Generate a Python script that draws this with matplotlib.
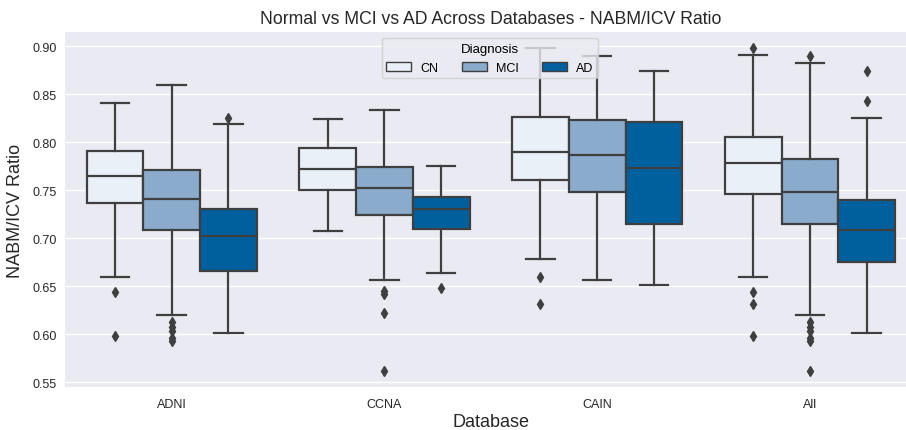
import matplotlib
matplotlib.use("Agg")
import matplotlib.pyplot as plt
from matplotlib.patches import Patch

plt.rcParams['font.family'] = ['Liberation Sans', 'DejaVu Sans']

databases = ["ADNI", "CCNA", "CAIN", "All"]
diagnoses = ["CN", "MCI", "AD"]
colors = ["#eaf0f8", "#8aabcc", "#00609e"]

# box statistics per database (rows) and diagnosis (cols): whislo, q1, med, q3, whishi
whislo = [[0.660, 0.620, 0.601],
          [0.7075, 0.657, 0.664],
          [0.678, 0.657, 0.651],
          [0.660, 0.620, 0.601]]
q1 = [[0.7366, 0.7085, 0.6662],
      [0.7505, 0.7241, 0.7095],
      [0.7606, 0.7484, 0.7151],
      [0.7457, 0.7151, 0.6752]]
med = [[0.765, 0.7411, 0.7026],
       [0.772, 0.7525, 0.730],
       [0.790, 0.7869, 0.773],
       [0.7786, 0.7477, 0.7085]]
q3 = [[0.791, 0.771, 0.730],
      [0.7935, 0.7738, 0.7432],
      [0.8264, 0.823, 0.8206],
      [0.805, 0.7827, 0.7397]]
whishi = [[0.841, 0.8594, 0.8185],
          [0.824, 0.833, 0.7754],
          [0.8976, 0.8899, 0.8743],
          [0.891, 0.8823, 0.8254]]
fliers = [[[0.6437, 0.5985], [0.613, 0.608, 0.603, 0.596, 0.593], [0.825]],
          [[], [0.645, 0.642, 0.6221, 0.5615], [0.6478]],
          [[0.6596, 0.6315], [], []],
          [[0.8976, 0.6443, 0.6315, 0.5985],
           [0.8893, 0.613, 0.608, 0.603, 0.596, 0.593, 0.5615],
           [0.8737, 0.8424]]]

W, H = 906, 431
fig = plt.figure(figsize=(W / 100, H / 100), dpi=100)
left, right_px_width = 65.3, 851.0
top, bottom = 33.3, 388.3
ax = fig.add_axes([left / W, 1 - bottom / H, right_px_width / W, (bottom - top) / H])
ax.set_facecolor("#eaeaf2")
for s in ax.spines.values():
    s.set_visible(False)
ax.yaxis.grid(True, color="white", linewidth=1.0)
ax.set_axisbelow(True)

n = len(diagnoses)
bw = 0.8 / n
line_c = "#3f3f3f"
for i in range(len(databases)):
    for j in range(n):
        pos = i - 0.4 + bw * (j + 0.5)
        st = dict(med=med[i][j], q1=q1[i][j], q3=q3[i][j],
                  whislo=whislo[i][j], whishi=whishi[i][j],
                  fliers=fliers[i][j])
        ax.bxp([st], positions=[pos], widths=bw, patch_artist=True,
               showfliers=True, manage_ticks=False,
               boxprops=dict(facecolor=colors[j], edgecolor=line_c, linewidth=1.6),
               medianprops=dict(color=line_c, linewidth=1.6),
               whiskerprops=dict(color=line_c, linewidth=1.6),
               capprops=dict(color=line_c, linewidth=1.6),
               capwidths=bw * 0.5,
               flierprops=dict(marker="d", markerfacecolor=line_c,
                               markeredgecolor=line_c, markersize=5.5))

ax.set_xlim(-0.5, 3.5)
ax.set_ylim(0.5448, 0.9143)
ax.set_xticks(range(len(databases)))
ax.set_xticklabels(databases)
ax.set_yticks([0.55, 0.60, 0.65, 0.70, 0.75, 0.80, 0.85, 0.90])
ax.set_yticklabels(["0.55", "0.60", "0.65", "0.70", "0.75", "0.80", "0.85", "0.90"])
ax.tick_params(axis="both", length=0, labelsize=9, colors="#262626", pad=8)
ax.tick_params(axis="y", pad=6)

ax.set_title("Normal vs MCI vs AD Across Databases - NABM/ICV Ratio",
             fontsize=12.7, color="#262626", pad=7)
ax.set_xlabel("Database", fontsize=13, color="#262626", labelpad=2)
ax.set_ylabel("NABM/ICV Ratio", fontsize=13, color="#262626", labelpad=6)

handles = [Patch(facecolor=c, edgecolor=line_c, linewidth=1.0) for c in colors]
leg = ax.legend(handles, diagnoses, title="Diagnosis", ncol=3, loc="upper center",
                bbox_to_anchor=(0.4987, 0.983), borderaxespad=0,
                fontsize=9, title_fontsize=9.5,
                frameon=True, framealpha=0.8, facecolor="#eaeaf2",
                edgecolor="#cccccc", handlelength=2.0, handleheight=0.7,
                handletextpad=0.7, columnspacing=1.9, borderpad=0.35,
                labelspacing=0.5)
leg._legend_box.sep = 5

fig.savefig("out.png", dpi=100)
